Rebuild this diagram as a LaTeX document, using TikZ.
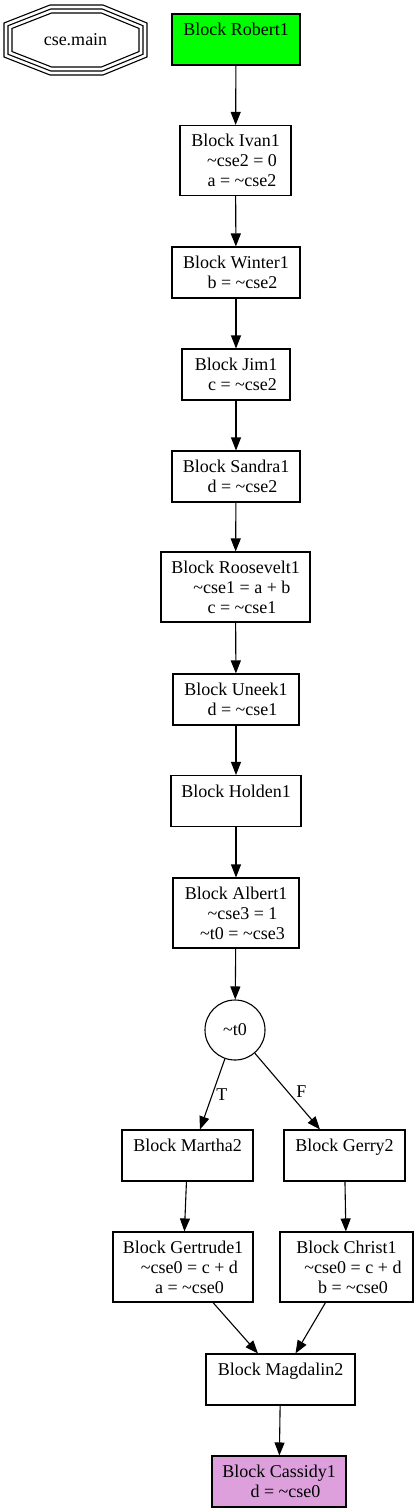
\documentclass[tikz,border=0pt]{standalone}
\usepackage{fontspec}
\setmainfont{Liberation Serif}
\usepackage{xcolor}
\usetikzlibrary{arrows.meta,positioning}
\definecolor{startgreen}{HTML}{00FF00}
\definecolor{endplum}{HTML}{DDA0DD}
\newcommand{\tld}{\textasciitilde}
\newcommand{\ind}{\hspace*{13pt}}

\begin{document}
\begin{tikzpicture}[x=1pt,y=-1pt, line width=1.1pt,
    every node/.style={font=\fontsize{18}{20}\selectfont},
    blk/.style={draw, rectangle, align=center, inner sep=0pt},
    two/.style={blk, minimum height=51},
    three/.style={blk, minimum height=70},
    edge/.style={-{Triangle[length=13pt,width=10pt]}}]
    \useasboundingbox (0,0) rectangle (419,1512);

    % function name, triple octagon
    \foreach \d in {0,4,8}
        \draw (50+0.2*\d,5+\d) -- (103-0.2*\d,5+\d) -- (147-\d,23+0.68*\d) -- (147-\d,57-0.68*\d)
            -- (103-0.2*\d,75-\d) -- (50+0.2*\d,75-\d) -- (4+\d,57-0.68*\d) -- (4+\d,23+0.68*\d) -- cycle;
    \node (main) at (75.5,40) {cse.main};

    % straight chain of blocks
    \node[two, fill=startgreen, minimum width=128] (rob) at (236,39.5) {Block Robert1\\\mbox{}};
    \node[three, minimum width=111] (ivan) at (235.5,160.5) {Block Ivan1\\\ind\tld cse2 = 0\\\ind a = \tld cse2};
    \node[two, minimum width=128] (win) at (236,272.5) {Block Winter1\\\ind b = \tld cse2};
    \node[two, minimum width=108] (jim) at (236,374.5) {Block Jim1\\\ind c = \tld cse2};
    \node[two, minimum width=128] (san) at (236,476.5) {Block Sandra1\\\ind d = \tld cse2};
    \node[three, minimum width=149] (roo) at (235.5,587) {Block Roosevelt1\\\ind\tld cse1 = a + b\\\ind c = \tld cse1};
    \node[two, minimum width=126] (une) at (236,699.5) {Block Uneek1\\\ind d = \tld cse1};
    \node[two, minimum width=130] (hol) at (236,801) {Block Holden1\\\mbox{}};
    \node[three, minimum width=126] (alb) at (236,913) {Block Albert1\\\ind\tld cse3 = 1\\\ind\tld t0 = \tld cse3};

    % branch
    \node[draw, circle, minimum size=60, inner sep=0pt] (t0) at (235,1030) {\tld t0};
    \node[two, minimum width=131] (mar) at (187.5,1155.5) {Block Martha2\\\mbox{}};
    \node[two, minimum width=121] (ger) at (344.5,1155.5) {Block Gerry2\\\mbox{}};
    \node[three, minimum width=140] (gert) at (183,1267) {Block Gertrude1\\\ind\tld cse0 = c + d\\\ind a = \tld cse0};
    \node[three, minimum width=133] (chr) at (346.5,1267) {Block Christ1\\\ind\tld cse0 = c + d\\\ind b = \tld cse0};
    \node[two, minimum width=149] (mag) at (280.5,1379.5) {Block Magdalin2\\\mbox{}};
    \node[two, fill=endplum, minimum width=134] (cas) at (279,1481.5) {Block Cassidy1\\\ind d = \tld cse0};

    % edges
    \draw[edge] (rob) -- (ivan);
    \draw[edge] (ivan) -- (win);
    \draw[edge] (win) -- (jim);
    \draw[edge] (jim) -- (san);
    \draw[edge] (san) -- (roo);
    \draw[edge] (roo) -- (une);
    \draw[edge] (une) -- (hol);
    \draw[edge] (hol) -- (alb);
    \draw[edge] (alb) -- (t0);
    \draw[edge] (t0) -- ([xshift=12.5]mar.north) node[midway, right=0pt] {T};
    \draw[edge] (t0) -- ([xshift=-24.5]ger.north) node[midway, right=5pt] {F};
    \draw[edge] (mar) -- (gert);
    \draw[edge] (ger) -- (chr);
    \draw[edge] ([xshift=30]gert.south) -- ([xshift=-22.5]mag.north);
    \draw[edge] ([xshift=-21]chr.south) -- ([xshift=15]mag.north);
    \draw[edge] (mag) -- (cas);
\end{tikzpicture}
\end{document}
